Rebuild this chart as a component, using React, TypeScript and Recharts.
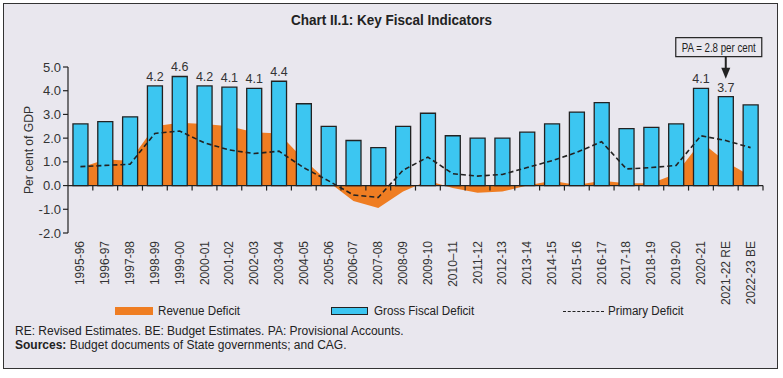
import React from 'react'
import {
  ComposedChart,
  Area,
  Bar,
  Line,
  XAxis,
  YAxis,
  ReferenceLine,
  ReferenceDot,
  LabelList,
  Legend,
} from 'recharts'

const categories = [
  '1995-96', '1996-97', '1997-98', '1998-99', '1999-00', '2000-01', '2001-02',
  '2002-03', '2003-04', '2004-05', '2005-06', '2006-07', '2007-08', '2008-09',
  '2009-10', '2010–11', '2011-12', '2012-13', '2013-14', '2014-15', '2015-16',
  '2016-17', '2017-18', '2018-19', '2019-20', '2020-21', '2021-22 RE', '2022-23 BE',
]

const revenueDeficit = [
  0.75, 1.1, 1.05, 2.5, 2.65, 2.6, 2.5, 2.25, 2.2, 1.1, 0.15, -0.65, -0.95, -0.25,
  0.2, -0.1, -0.3, -0.25, 0.0, 0.2, 0.02, 0.2, 0.1, 0.1, 0.5, 1.85, 1.0, 0.4,
]

const grossFiscalDeficit = [
  2.6, 2.7, 2.9, 4.2, 4.6, 4.2, 4.15, 4.1, 4.4, 3.45, 2.5, 1.9, 1.6, 2.5,
  3.05, 2.1, 2.0, 2.0, 2.25, 2.6, 3.1, 3.5, 2.4, 2.45, 2.6, 4.1, 3.75, 3.4,
]

const primaryDeficit = [
  0.8, 0.85, 0.9, 2.2, 2.3, 1.8, 1.5, 1.35, 1.45, 0.75, 0.2, -0.4, -0.5, 0.65,
  1.2, 0.5, 0.4, 0.47, 0.76, 1.05, 1.4, 1.85, 0.7, 0.76, 0.85, 2.1, 1.9, 1.6,
]

// only some bars carry a value label in the original
const barLabels = [
  '', '', '', '4.2', '4.6', '4.2', '4.1', '4.1', '4.4', '', '', '', '', '',
  '', '', '', '', '', '', '', '', '', '', '', '4.1', '3.7', '',
]

const yTicks = [-2, -1, 0, 1, 2, 3, 4, 5]

const data = categories.map((name, i) => ({
  name,
  rd: revenueDeficit[i],
  gfd: grossFiscalDeficit[i],
  pd: primaryDeficit[i],
  label: barLabels[i],
}))

const SANS = "'Liberation Sans', Arial, sans-serif"
const ORANGE = '#ef7d22'
const BLUE = '#3cc6f1'
const INK = '#222'

const XTick = (props: any) => {
  const { x, y, payload } = props
  return (
    <text
      x={x}
      y={y}
      transform={`rotate(-90 ${x} ${y})`}
      textAnchor="end"
      dominantBaseline="central"
      fontFamily={SANS}
      fontSize={12}
      fill="#333"
    >
      {payload.value}
    </text>
  )
}

// zero line doubles as the category axis, with ticks between the bands
const ZeroAxis = (props: any) => {
  const { x1, y1, x2, y2 } = props
  const n = categories.length
  const step = (x2 - x1) / n
  const ticks = []
  for (let i = 1; i <= n; i++) {
    const tx = x1 + i * step
    ticks.push(<line key={i} x1={tx} y1={y1} x2={tx} y2={y1 + 5} stroke={INK} strokeWidth={1.2} />)
  }
  return (
    <g>
      <line x1={x1} y1={y1} x2={x2} y2={y2} stroke={INK} strokeWidth={1.2} />
      {ticks}
    </g>
  )
}

const PaNote = (props: any) => {
  const { cx, cy } = props
  const tip = cy - 18
  const boxTop = cy - 59
  const boxBottom = cy - 40
  const boxLeft = cx - 50
  const boxRight = cx + 36
  const mid = (boxLeft + boxRight) / 2
  return (
    <g>
      <rect x={boxLeft} y={boxTop} width={boxRight - boxLeft} height={boxBottom - boxTop} fill="none" stroke={INK} strokeWidth={1.2} />
      <text
        x={mid}
        y={(boxTop + boxBottom) / 2 + 0.5}
        textAnchor="middle"
        dominantBaseline="central"
        fontFamily={SANS}
        fontSize={12}
        textLength={74}
        lengthAdjust="spacingAndGlyphs"
        fill={INK}
      >
        PA = 2.8 per cent
      </text>
      <line x1={cx} y1={boxBottom} x2={cx} y2={tip - 10} stroke={INK} strokeWidth={2} />
      <path d={`M${cx - 4.5},${tip - 11} L${cx + 4.5},${tip - 11} L${cx},${tip} Z`} fill={INK} />
    </g>
  )
}

const legendText: React.CSSProperties = {
  position: 'absolute',
  top: 3,
  fontSize: 12.5,
  lineHeight: '14px',
  whiteSpace: 'nowrap',
  transform: 'scaleX(0.93)',
  transformOrigin: 'left center',
}

const LegendContent = () => (
  <div style={{ position: 'relative', width: 783, height: 20, fontFamily: SANS, color: INK }}>
    <div style={{ position: 'absolute', left: 115, top: 6, width: 38, height: 8, background: ORANGE }} />
    <div style={{ ...legendText, left: 158 }}>Revenue Deficit</div>
    <div style={{ position: 'absolute', left: 331, top: 6, width: 35, height: 6, background: BLUE, border: `1px solid ${INK}` }} />
    <div style={{ ...legendText, left: 374 }}>Gross Fiscal Deficit</div>
    <div style={{ position: 'absolute', left: 563, top: 10, width: 41, borderTop: `1.5px dashed ${INK}` }} />
    <div style={{ ...legendText, left: 608 }}>Primary Deficit</div>
  </div>
)

const App: React.FC = () => {
  return (
    <div style={{ position: 'absolute', left: 0, top: 0, width: 783, height: 378, background: '#fff' }}>
      <div
        style={{
          position: 'absolute',
          left: 3,
          top: 3,
          width: 773,
          height: 364,
          background: '#e9e7ee',
          border: '1.5px solid #333',
        }}
      />
      <div
        style={{
          position: 'absolute',
          left: 0,
          top: 11,
          width: 783,
          textAlign: 'center',
          fontFamily: SANS,
          fontWeight: 'bold',
          fontSize: 15,
          lineHeight: '18px',
          color: INK,
          transform: 'scaleX(0.9)',
          transformOrigin: '391px 50%',
        }}
      >
        Chart II.1: Key Fiscal Indicators
      </div>
      <div style={{ position: 'absolute', left: 0, top: 0 }}>
        <ComposedChart
          width={783}
          height={378}
          data={data}
          margin={{ top: 67, right: 20, bottom: 85, left: 28 }}
          barCategoryGap="20%"
        >
          <XAxis
            dataKey="name"
            axisLine={false}
            tickLine={false}
            interval={0}
            height={60}
            tick={<XTick />}
          />
          <YAxis
            domain={[-2, 5]}
            ticks={yTicks}
            width={40}
            axisLine={{ stroke: INK, strokeWidth: 1.2 }}
            tickLine={{ stroke: INK, strokeWidth: 1.2 }}
            tickSize={5}
            tickMargin={2}
            tickFormatter={(v: number) => v.toFixed(1)}
            tick={{ fontFamily: SANS, fontSize: 13, fill: '#333' }}
            label={{
              content: (p: any) => {
                const vb = p.viewBox
                const cx = vb.x
                const cy = vb.y + vb.height / 2
                return (
                  <text
                    x={cx}
                    y={cy}
                    transform={`rotate(-90 ${cx} ${cy})`}
                    textAnchor="middle"
                    dominantBaseline="central"
                    fontFamily={SANS}
                    fontSize={13}
                    textLength={88}
                    lengthAdjust="spacingAndGlyphs"
                    fill="#333"
                  >
                    Per cent of GDP
                  </text>
                )
              },
            }}
          />
          <Area
            type="linear"
            dataKey="rd"
            baseValue={0}
            fill={ORANGE}
            fillOpacity={1}
            stroke="none"
            isAnimationActive={false}
          />
          <Bar dataKey="gfd" fill={BLUE} stroke={INK} strokeWidth={1.3} isAnimationActive={false}>
            <LabelList dataKey="label" position="top" offset={5} fill="#333" fontFamily={SANS} fontSize={12.5} />
          </Bar>
          <ReferenceLine y={0} shape={<ZeroAxis />} />
          <Line
            type="linear"
            dataKey="pd"
            stroke={INK}
            strokeWidth={1.6}
            strokeDasharray="5 3"
            dot={false}
            isAnimationActive={false}
          />
          <ReferenceDot
            x="2021-22 RE"
            y={grossFiscalDeficit[26]}
            r={0}
            ifOverflow="visible"
            shape={<PaNote />}
          />
          <Legend
            verticalAlign="middle"
            align="center"
            layout="horizontal"
            content={<LegendContent />}
            wrapperStyle={{ top: 301, left: 0, width: 783 }}
          />
        </ComposedChart>
      </div>
      <div
        style={{
          position: 'absolute',
          left: 15,
          top: 325,
          fontFamily: SANS,
          fontSize: 12,
          lineHeight: '13.5px',
          color: INK,
          whiteSpace: 'nowrap',
        }}
      >
        <div>RE: Revised Estimates. BE: Budget Estimates. PA: Provisional Accounts.</div>
        <div>
          <b>Sources:</b> Budget documents of State governments; and CAG.
        </div>
      </div>
    </div>
  )
}

export default App
